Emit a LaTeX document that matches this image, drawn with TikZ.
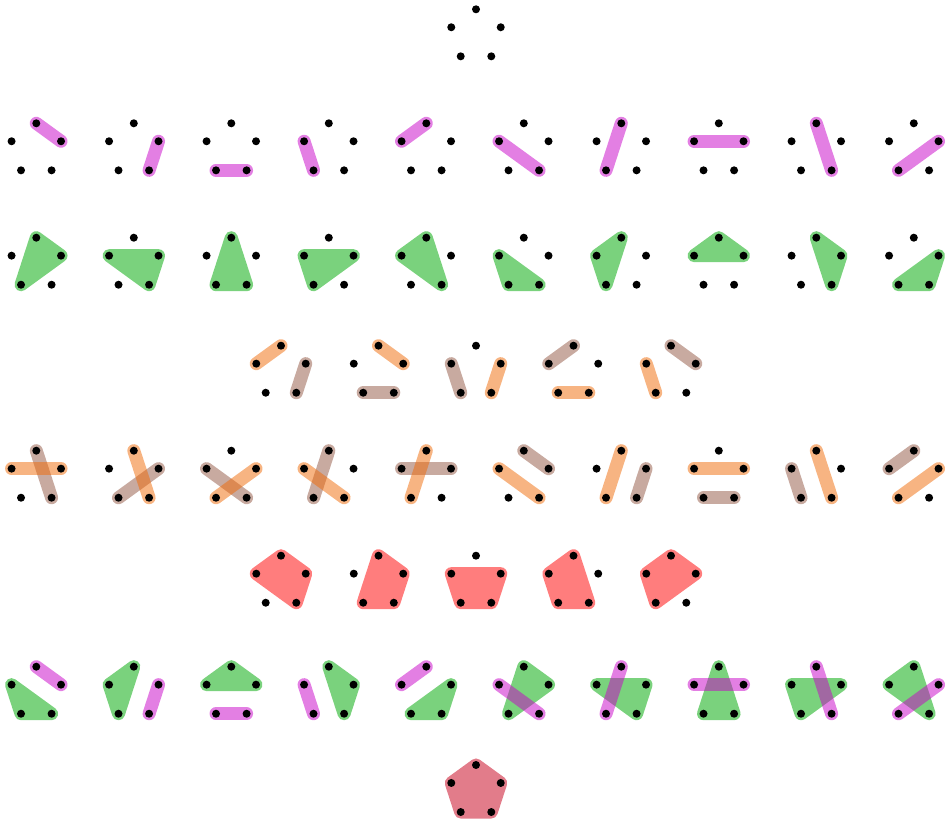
\documentclass[tikz,border=0pt]{standalone}
\usepackage{xcolor}
\usepackage{tikz}
\usetikzlibrary{positioning}

\pgfdeclarelayer{blocks}
\pgfsetlayers{blocks,main}

\definecolor{magbase}{RGB}{200,0,200}
\definecolor{orgbase}{RGB}{240,105,5}
\definecolor{brnbase}{RGB}{145,85,65}
\definecolor{tricol}{RGB}{122,210,125}
\definecolor{quadcol}{RGB}{255,125,125}
\definecolor{fullcol}{RGB}{226,124,138}

\tikzset{
  dot/.style={circle, fill=black, inner sep=0pt, minimum size=8pt},
  blk/.style={line width=13pt, line cap=round, line join=round},
  magpair/.style={blk, draw=magbase, draw opacity=.5},
  orgpair/.style={blk, draw=orgbase, draw opacity=.5},
  brnpair/.style={blk, draw=brnbase, draw opacity=.5},
  triple/.style={blk, draw=tricol, fill=tricol},
  quad/.style={blk, draw=quadcol, fill=quadcol},
  whole/.style={blk, draw=fullcol, fill=fullcol}
}

% five points of one partition, named #1-1 (top) to #1-5, clockwise
\newcommand{\fivedots}[3]{%
  \path (#2,#3) +(90:26) node[dot] (#1-1) {}
                +(18:26) node[dot] (#1-2) {}
                +(-54:26) node[dot] (#1-3) {}
                +(-126:26) node[dot] (#1-4) {}
                +(162:26) node[dot] (#1-5) {};
}

\begin{document}
\begin{tikzpicture}[x=1pt, y=1pt]
\useasboundingbox (0,0) rectangle (948,825);

% all singletons
\fivedots{s}{476}{789.7}

% one pair
\fivedots{a1}{36.3}{675.7}
\fivedots{a2}{133.8}{675.7}
\fivedots{a3}{231.3}{675.7}
\fivedots{a4}{328.8}{675.7}
\fivedots{a5}{426.3}{675.7}
\fivedots{a6}{523.8}{675.7}
\fivedots{a7}{621.3}{675.7}
\fivedots{a8}{718.8}{675.7}
\fivedots{a9}{816.3}{675.7}
\fivedots{a10}{913.8}{675.7}
\begin{pgfonlayer}{blocks}
\draw[magpair] (a1-1.center) -- (a1-2.center);
\draw[magpair] (a2-2.center) -- (a2-3.center);
\draw[magpair] (a3-3.center) -- (a3-4.center);
\draw[magpair] (a4-4.center) -- (a4-5.center);
\draw[magpair] (a5-5.center) -- (a5-1.center);
\draw[magpair] (a6-5.center) -- (a6-3.center);
\draw[magpair] (a7-1.center) -- (a7-4.center);
\draw[magpair] (a8-5.center) -- (a8-2.center);
\draw[magpair] (a9-1.center) -- (a9-3.center);
\draw[magpair] (a10-2.center) -- (a10-4.center);
\end{pgfonlayer}

% one triple
\fivedots{b1}{36.3}{561.3}
\fivedots{b2}{133.8}{561.3}
\fivedots{b3}{231.3}{561.3}
\fivedots{b4}{328.8}{561.3}
\fivedots{b5}{426.3}{561.3}
\fivedots{b6}{523.8}{561.3}
\fivedots{b7}{621.3}{561.3}
\fivedots{b8}{718.8}{561.3}
\fivedots{b9}{816.3}{561.3}
\fivedots{b10}{913.8}{561.3}
\begin{pgfonlayer}{blocks}
\draw[triple] (b1-1.center) -- (b1-2.center) -- (b1-4.center) -- cycle;
\draw[triple] (b2-5.center) -- (b2-2.center) -- (b2-3.center) -- cycle;
\draw[triple] (b3-1.center) -- (b3-3.center) -- (b3-4.center) -- cycle;
\draw[triple] (b4-5.center) -- (b4-2.center) -- (b4-4.center) -- cycle;
\draw[triple] (b5-1.center) -- (b5-3.center) -- (b5-5.center) -- cycle;
\draw[triple] (b6-5.center) -- (b6-4.center) -- (b6-3.center) -- cycle;
\draw[triple] (b7-1.center) -- (b7-5.center) -- (b7-4.center) -- cycle;
\draw[triple] (b8-1.center) -- (b8-5.center) -- (b8-2.center) -- cycle;
\draw[triple] (b9-1.center) -- (b9-2.center) -- (b9-3.center) -- cycle;
\draw[triple] (b10-2.center) -- (b10-3.center) -- (b10-4.center) -- cycle;
\end{pgfonlayer}

% two pairs, not crossing
\fivedots{c1}{281}{453.3}
\fivedots{c2}{378.5}{453.3}
\fivedots{c3}{476}{453.3}
\fivedots{c4}{573.5}{453.3}
\fivedots{c5}{671}{453.3}
\begin{pgfonlayer}{blocks}
\draw[orgpair] (c1-5.center) -- (c1-1.center);
\draw[brnpair] (c1-2.center) -- (c1-3.center);
\draw[orgpair] (c2-1.center) -- (c2-2.center);
\draw[brnpair] (c2-3.center) -- (c2-4.center);
\draw[brnpair] (c3-5.center) -- (c3-4.center);
\draw[orgpair] (c3-2.center) -- (c3-3.center);
\draw[brnpair] (c4-5.center) -- (c4-1.center);
\draw[orgpair] (c4-3.center) -- (c4-4.center);
\draw[orgpair] (c5-5.center) -- (c5-4.center);
\draw[brnpair] (c5-1.center) -- (c5-2.center);
\end{pgfonlayer}

% two pairs
\fivedots{d1}{36.3}{348.3}
\fivedots{d2}{133.8}{348.3}
\fivedots{d3}{231.3}{348.3}
\fivedots{d4}{328.8}{348.3}
\fivedots{d5}{426.3}{348.3}
\fivedots{d6}{523.8}{348.3}
\fivedots{d7}{621.3}{348.3}
\fivedots{d8}{718.8}{348.3}
\fivedots{d9}{816.3}{348.3}
\fivedots{d10}{913.8}{348.3}
\begin{pgfonlayer}{blocks}
\draw[brnpair] (d1-1.center) -- (d1-3.center);
\draw[orgpair] (d1-5.center) -- (d1-2.center);
\draw[brnpair] (d2-2.center) -- (d2-4.center);
\draw[orgpair] (d2-1.center) -- (d2-3.center);
\draw[brnpair] (d3-5.center) -- (d3-3.center);
\draw[orgpair] (d3-2.center) -- (d3-4.center);
\draw[brnpair] (d4-1.center) -- (d4-4.center);
\draw[orgpair] (d4-5.center) -- (d4-3.center);
\draw[brnpair] (d5-5.center) -- (d5-2.center);
\draw[orgpair] (d5-1.center) -- (d5-4.center);
\draw[brnpair] (d6-1.center) -- (d6-2.center);
\draw[orgpair] (d6-5.center) -- (d6-3.center);
\draw[brnpair] (d7-2.center) -- (d7-3.center);
\draw[orgpair] (d7-1.center) -- (d7-4.center);
\draw[brnpair] (d8-3.center) -- (d8-4.center);
\draw[orgpair] (d8-5.center) -- (d8-2.center);
\draw[brnpair] (d9-5.center) -- (d9-4.center);
\draw[orgpair] (d9-1.center) -- (d9-3.center);
\draw[brnpair] (d10-5.center) -- (d10-1.center);
\draw[orgpair] (d10-2.center) -- (d10-4.center);
\end{pgfonlayer}

% one block of four
\fivedots{e1}{281}{243.3}
\fivedots{e2}{378.5}{243.3}
\fivedots{e3}{476}{243.3}
\fivedots{e4}{573.5}{243.3}
\fivedots{e5}{671}{243.3}
\begin{pgfonlayer}{blocks}
\draw[quad] (e1-1.center) -- (e1-2.center) -- (e1-3.center) -- (e1-5.center) -- cycle;
\draw[quad] (e2-1.center) -- (e2-2.center) -- (e2-3.center) -- (e2-4.center) -- cycle;
\draw[quad] (e3-2.center) -- (e3-3.center) -- (e3-4.center) -- (e3-5.center) -- cycle;
\draw[quad] (e4-1.center) -- (e4-3.center) -- (e4-4.center) -- (e4-5.center) -- cycle;
\draw[quad] (e5-1.center) -- (e5-2.center) -- (e5-4.center) -- (e5-5.center) -- cycle;
\end{pgfonlayer}

% a triple and a pair
\fivedots{f1}{36.3}{132.3}
\fivedots{f2}{133.8}{132.3}
\fivedots{f3}{231.3}{132.3}
\fivedots{f4}{328.8}{132.3}
\fivedots{f5}{426.3}{132.3}
\fivedots{f6}{523.8}{132.3}
\fivedots{f7}{621.3}{132.3}
\fivedots{f8}{718.8}{132.3}
\fivedots{f9}{816.3}{132.3}
\fivedots{f10}{913.8}{132.3}
\begin{pgfonlayer}{blocks}
\draw[triple] (f1-5.center) -- (f1-4.center) -- (f1-3.center) -- cycle;
\draw[magpair] (f1-1.center) -- (f1-2.center);
\draw[triple] (f2-1.center) -- (f2-5.center) -- (f2-4.center) -- cycle;
\draw[magpair] (f2-2.center) -- (f2-3.center);
\draw[triple] (f3-1.center) -- (f3-5.center) -- (f3-2.center) -- cycle;
\draw[magpair] (f3-3.center) -- (f3-4.center);
\draw[triple] (f4-1.center) -- (f4-2.center) -- (f4-3.center) -- cycle;
\draw[magpair] (f4-5.center) -- (f4-4.center);
\draw[triple] (f5-2.center) -- (f5-3.center) -- (f5-4.center) -- cycle;
\draw[magpair] (f5-5.center) -- (f5-1.center);
\draw[triple] (f6-1.center) -- (f6-2.center) -- (f6-4.center) -- cycle;
\draw[magpair] (f6-5.center) -- (f6-3.center);
\draw[triple] (f7-5.center) -- (f7-2.center) -- (f7-3.center) -- cycle;
\draw[magpair] (f7-1.center) -- (f7-4.center);
\draw[triple] (f8-1.center) -- (f8-3.center) -- (f8-4.center) -- cycle;
\draw[magpair] (f8-5.center) -- (f8-2.center);
\draw[triple] (f9-5.center) -- (f9-2.center) -- (f9-4.center) -- cycle;
\draw[magpair] (f9-1.center) -- (f9-3.center);
\draw[triple] (f10-1.center) -- (f10-3.center) -- (f10-5.center) -- cycle;
\draw[magpair] (f10-2.center) -- (f10-4.center);
\end{pgfonlayer}

% one block of five
\fivedots{g}{476}{34}
\begin{pgfonlayer}{blocks}
\draw[whole] (g-1.center) -- (g-2.center) -- (g-3.center) -- (g-4.center) -- (g-5.center) -- cycle;
\end{pgfonlayer}
\end{tikzpicture}
\end{document}
